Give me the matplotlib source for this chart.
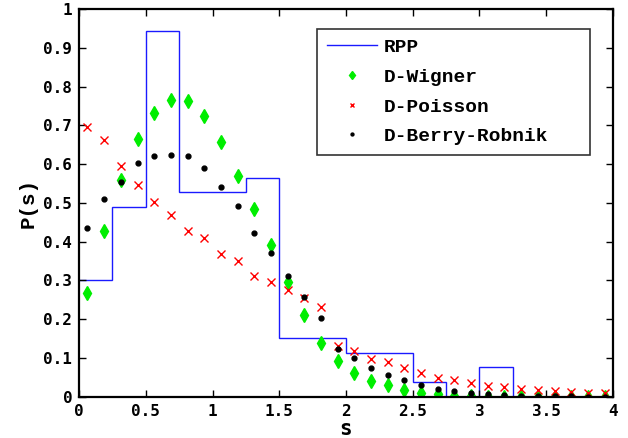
import numpy as np
import matplotlib
matplotlib.use("Agg")
import matplotlib.pyplot as plt

# RPP histogram (bin edges and heights)
rpp_edges = [0, 0.25, 0.5, 0.75, 1.0, 1.25, 1.5, 1.75, 2.0, 2.25, 2.5, 2.75, 3.0, 3.25, 3.5, 3.75, 4.0]
rpp_vals = [0.302, 0.490, 0.944, 0.528, 0.528, 0.565, 0.151, 0.151, 0.113, 0.113, 0.038, 0.0, 0.076, 0.0, 0.0, 0.0]

# sample points
s_pts = [0.0625, 0.1875, 0.3125, 0.4375, 0.5625, 0.6875, 0.8125, 0.9375,
         1.0625, 1.1875, 1.3125, 1.4375, 1.5625, 1.6875, 1.8125, 1.9375,
         2.0625, 2.1875, 2.3125, 2.4375, 2.5625, 2.6875, 2.8125, 2.9375,
         3.0625, 3.1875, 3.3125, 3.4375, 3.5625, 3.6875, 3.8125, 3.9375]

wigner = [0.267, 0.428, 0.559, 0.664, 0.732, 0.765, 0.762, 0.725,
          0.657, 0.570, 0.484, 0.392, 0.297, 0.210, 0.138, 0.091,
          0.061, 0.041, 0.029, 0.018, 0.010, 0.007, 0.002, 0.001,
          0.0, 0.0, 0.0, 0.0, 0.0, 0.0, 0.0, 0.0]

poisson = [0.695, 0.663, 0.595, 0.547, 0.502, 0.468, 0.427, 0.409,
           0.368, 0.349, 0.312, 0.296, 0.274, 0.255, 0.232, 0.131,
           0.117, 0.096, 0.089, 0.075, 0.061, 0.048, 0.043, 0.035,
           0.028, 0.026, 0.021, 0.017, 0.014, 0.011, 0.010, 0.010]

berry = [0.434, 0.510, 0.555, 0.603, 0.622, 0.624, 0.621, 0.591,
         0.540, 0.493, 0.423, 0.371, 0.312, 0.256, 0.204, 0.124,
         0.099, 0.073, 0.055, 0.042, 0.030, 0.020, 0.014, 0.010,
         0.006, 0.004, 0.003, 0.002, 0.001, 0.001, 0.0, 0.0]

xticks = [0, 0.5, 1, 1.5, 2, 2.5, 3, 3.5, 4]
xticklabels = ["0", "0.5", "1", "1.5", "2", "2.5", "3", "3.5", "4"]
yticks = [0, 0.1, 0.2, 0.3, 0.4, 0.5, 0.6, 0.7, 0.8, 0.9, 1.0]
yticklabels = ["0", "0.1", "0.2", "0.3", "0.4", "0.5", "0.6", "0.7", "0.8", "0.9", "1"]

tick_font = {"family": "DejaVu Sans Mono", "weight": "bold", "size": 11.5}
leg_font = {"family": "Liberation Mono", "weight": "bold", "size": 14}

fig = plt.figure(figsize=(6.28, 4.38), dpi=100)
ax = fig.add_axes([0.126, 0.0943, 0.85, 0.885])

ax.stairs(rpp_vals, rpp_edges, baseline=None, color="#1a1aff", lw=1.0, label="RPP")
ax.plot(s_pts, wigner, linestyle="none", marker="d", color="#00ee00", ms=7.5, mec="#00ee00", label="D-Wigner")
ax.plot(s_pts, poisson, linestyle="none", marker="x", color="#ff0000", ms=5.5, mew=1.0, label="D-Poisson")
ax.plot(s_pts, berry, linestyle="none", marker="o", color="black", ms=3.5, label="D-Berry-Robnik")

ax.set_xlim(0, 4)
ax.set_ylim(0, 1)
ax.set_xticks(xticks)
ax.set_xticklabels(xticklabels, fontdict=tick_font)
ax.set_yticks(yticks)
ax.set_yticklabels(yticklabels, fontdict=tick_font)
ax.tick_params(direction="in", top=True, right=True, length=5, width=1.0, pad=5)
for sp in ax.spines.values():
    sp.set_linewidth(1.6)

ax.set_xlabel("s", fontdict={"family": "DejaVu Sans Mono", "weight": "bold", "size": 15}, labelpad=0)
ax.set_ylabel("P(s)", fontdict={"family": "Liberation Mono", "weight": "bold", "size": 15}, labelpad=4)

leg = ax.legend(loc="upper left", bbox_to_anchor=(0.446, 0.949, 0.511, 0.0), mode="expand",
                prop=leg_font, frameon=True, fancybox=False, edgecolor="black",
                handlelength=2.6, handletextpad=0.3, labelspacing=0.62, borderpad=0.5,
                numpoints=1, borderaxespad=0, markerscale=0.6)
leg.get_frame().set_linewidth(1.2)

fig.savefig("out.png", dpi=100)
